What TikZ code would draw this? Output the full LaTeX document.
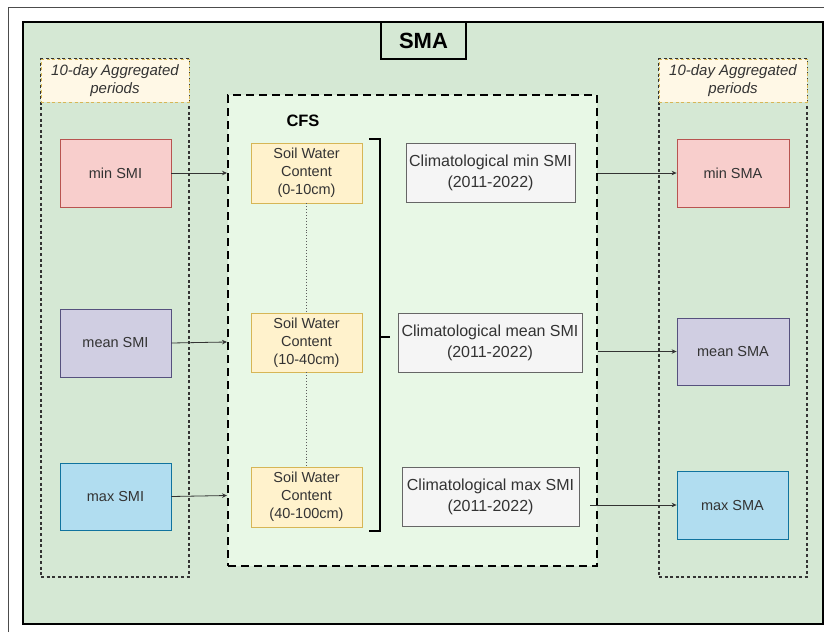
\documentclass[tikz,border=0pt]{standalone}
\usepackage{fontspec}
\setmainfont{Liberation Sans}
\usetikzlibrary{arrows.meta}
\definecolor{panelgreen}{HTML}{D5E8D4}
\definecolor{cfsgreen}{HTML}{E8F8E6}
\definecolor{labelfill}{HTML}{FFF8E6}
\definecolor{labeldraw}{HTML}{D6B656}
\definecolor{redfill}{HTML}{F8CECC}
\definecolor{reddraw}{HTML}{B85450}
\definecolor{purplefill}{HTML}{D0CEE2}
\definecolor{purpledraw}{HTML}{56517E}
\definecolor{bluefill}{HTML}{B1DDF0}
\definecolor{bluedraw}{HTML}{10739E}
\definecolor{soilfill}{HTML}{FFF2CC}
\definecolor{soildraw}{HTML}{D6B656}
\definecolor{climfill}{HTML}{F5F5F5}
\definecolor{climdraw}{HTML}{666666}
\definecolor{txt}{HTML}{333333}
\begin{document}
\begin{tikzpicture}[x=1pt,y=-1pt,
  box/.style={draw, line width=0.8pt, align=center, inner sep=0pt, text=txt,
    font=\fontsize{14.5}{17.8}\selectfont},
  smibox/.style={box, minimum width=111pt, minimum height=68pt},
  soilbox/.style={box, fill=soilfill, draw=soildraw, minimum width=111pt, minimum height=60pt},
  climbox/.style={box, fill=climfill, draw=climdraw, minimum height=59pt,
    font=\fontsize{16}{21}\selectfont},
  column/.style={draw=txt, line width=1.1pt, dash pattern=on 3pt off 2.6pt,
    minimum width=148pt, minimum height=518pt, inner sep=0pt},
  periodlabel/.style={draw=labeldraw, fill=labelfill, line width=1pt, dash pattern=on 3pt off 2.6pt,
    minimum width=148pt, minimum height=43pt, inner sep=0pt, align=center, text=txt,
    font=\fontsize{15}{18.3}\selectfont\itshape},
  flow/.style={draw=txt, line width=0.8pt, -{Stealth[length=5pt,width=4.5pt]}},
  link/.style={draw=txt!80, line width=0.9pt, dotted},
]
\useasboundingbox (0,0) rectangle (824,632);

% outer frame and main panel
\draw[line width=0.9pt, draw=black!70] (8,632) -- (8,7) -- (824,7);
\draw[fill=panelgreen, line width=2pt] (23,22) rectangle (823,624);
\node[draw, fill=panelgreen, line width=1.5pt, minimum width=85pt, minimum height=37pt,
  font=\fontsize{22}{26}\selectfont\bfseries] (title) at (423.5,40.5) {SMA};

% aggregation columns
\node[column] (leftcol) at (115,318) {};
\node[periodlabel] (leftlabel) at (115,80.5) {10-day Aggregated\\periods};
\node[column] (rightcol) at (733,318) {};
\node[periodlabel] (rightlabel) at (733,80.5) {10-day Aggregated\\periods};

% CFS region
\node[draw, fill=cfsgreen, line width=2pt, dash pattern=on 8pt off 5pt,
  minimum width=369pt, minimum height=471pt, inner sep=0pt] (cfs) at (412.5,330.5) {};
\node[font=\fontsize{16.5}{20}\selectfont\bfseries] (cfslabel) at (303,121) {CFS};

% input indices
\node[smibox, fill=redfill, draw=reddraw] (minsmi) at (115.5,173) {min SMI};
\node[smibox, fill=purplefill, draw=purpledraw] (meansmi) at (115.5,343) {mean SMI};
\node[smibox, fill=bluefill, draw=bluedraw, minimum height=67pt] (maxsmi) at (115.5,496.5) {max SMI};

% soil layers
\node[soilbox] (soil1) at (306.5,173) {Soil Water\\Content\\(0-10cm)};
\node[soilbox, minimum height=59pt] (soil2) at (306.5,342.5) {Soil Water\\Content\\(10-40cm)};
\node[soilbox] (soil3) at (306.5,497) {Soil Water\\Content\\(40-100cm)};
\draw[link] (soil1.south) -- (soil2.north);
\draw[link] (soil2.south) -- (soil3.north);

% bracket grouping the layers
\coordinate (brtop) at (369,139);
\coordinate (brbot) at (369,531);
\coordinate (brmid) at (380,337);
\draw[line width=2.5pt] (brtop) -- (380,139) -- (380,531) -- (brbot);
\draw[line width=2.5pt] (brmid) -- ++(10,0);

% climatologies
\node[climbox, minimum width=169pt] (climmin) at (490.5,172.5) {Climatological min SMI\\(2011-2022)};
\node[climbox, minimum width=184pt] (climmean) at (490,342.5) {Climatological mean SMI\\(2011-2022)};
\node[climbox, minimum width=177pt] (climmax) at (490.5,496.5) {Climatological max SMI\\(2011-2022)};

% anomaly outputs
\node[smibox, fill=redfill, draw=reddraw, minimum width=112pt] (minsma) at (733,173) {min SMA};
\node[smibox, fill=purplefill, draw=purpledraw, minimum width=112pt, minimum height=67pt] (meansma) at (733,351.5) {mean SMA};
\node[smibox, fill=bluefill, draw=bluedraw] (maxsma) at (732.5,505) {max SMA};

% flows into CFS
\draw[flow] (minsmi.east) -- (minsmi.east -| cfs.west);
\draw[flow] (meansmi.east) -- ([yshift=1pt]meansmi.east -| cfs.west);
\draw[flow] (maxsmi.east) -- ([yshift=1pt]maxsmi.east -| cfs.west);

% flows out of CFS
\draw[flow] (cfs.east |- minsma.west) -- (minsma.west);
\draw[flow] (cfs.east |- meansma.west) -- (meansma.west);
\coordinate (maxout) at ([xshift=-8pt]cfs.east |- maxsma.west);
\draw[flow] (maxout) -- (maxsma.west);
\end{tikzpicture}
\end{document}
